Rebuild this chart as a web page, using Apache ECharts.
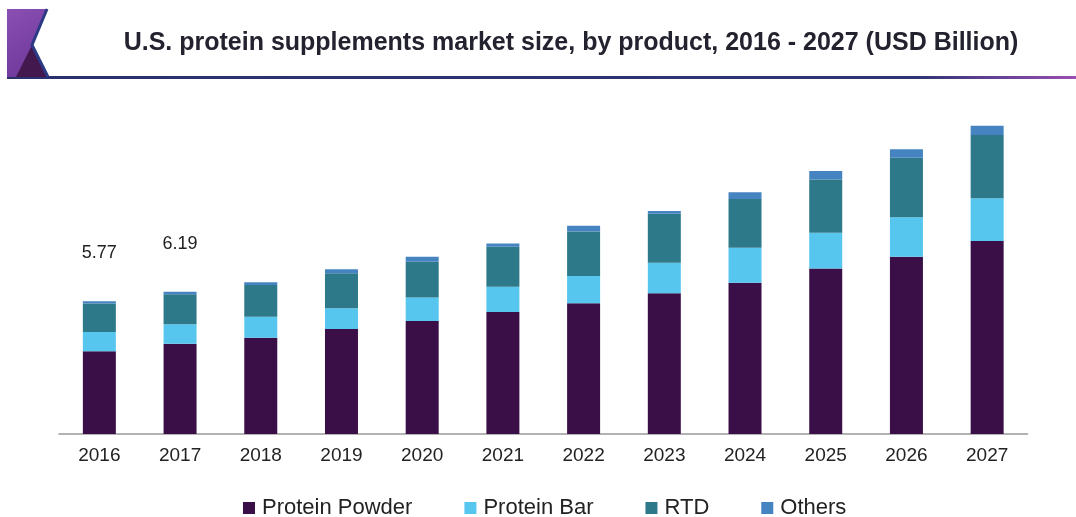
<!DOCTYPE html>
<html>
<head>
<meta charset="utf-8">
<title>U.S. protein supplements market size</title>
<script src="https://cdn.jsdelivr.net/npm/echarts@6/dist/echarts.min.js"></script>
<style>
  html, body { margin: 0; padding: 0; background: #ffffff; }
  #chart { width: 1076px; height: 517px; }
</style>
</head>
<body>
<div id="chart"></div>
<script>
// Market size by product, USD billion
const years = ['2016', '2017', '2018', '2019', '2020', '2021', '2022', '2023', '2024', '2025', '2026', '2027'];
const proteinPowder = [3.60, 3.92, 4.19, 4.57, 4.91, 5.30, 5.68, 6.12, 6.58, 7.20, 7.71, 8.39];
const proteinBar    = [0.84, 0.85, 0.91, 0.90, 1.03, 1.10, 1.19, 1.33, 1.52, 1.55, 1.71, 1.86];
const rtd           = [1.23, 1.31, 1.38, 1.52, 1.55, 1.74, 1.93, 2.13, 2.12, 2.32, 2.59, 2.75];
const others        = [0.10, 0.11, 0.12, 0.17, 0.22, 0.14, 0.25, 0.12, 0.29, 0.37, 0.37, 0.40];
// Years whose total is printed above the stack
const labelledYears = ['2016', '2017'];

const totals = years.map((_, i) => proteinPowder[i] + proteinBar[i] + rtd[i] + others[i]);

const FONT = '"Liberation Sans", Arial, sans-serif';
const COLORS = ['#3a0f48', '#56c6ef', '#2d7989', '#4584c0'];

const othersData = others.map((v, i) => {
  if (labelledYears.indexOf(years[i]) === -1) return v;
  return {
    value: v,
    label: {
      show: true,
      position: 'top',
      distance: 39,
      formatter: () => totals[i].toFixed(2),
      fontFamily: FONT,
      fontSize: 18,
      color: '#222222'
    }
  };
});

const chart = echarts.init(document.getElementById('chart'), null, { renderer: 'canvas' });

const barBase = { type: 'bar', stack: 'total', barWidth: 33 };

chart.setOption({
  animation: false,
  backgroundColor: '#ffffff',
  color: COLORS,
  title: {
    text: 'U.S. protein supplements market size, by product, 2016 - 2027 (USD Billion)',
    left: 566,
    textAlign: 'center',
    top: 26,
    textStyle: {
      fontFamily: FONT,
      fontWeight: 'bold',
      fontSize: 25,
      color: '#23222f'
    }
  },
  legend: {
    left: 243,
    top: 497,
    padding: 0,
    icon: 'rect',
    itemWidth: 12,
    itemHeight: 12,
    itemGap: 52,
    textStyle: {
      fontFamily: FONT,
      fontSize: 22,
      color: '#222222',
      padding: [0, 0, 0, 2]
    },
    data: ['Protein Powder', 'Protein Bar', 'RTD', 'Others']
  },
  grid: { left: 59, right: 48.5, top: 112, bottom: 83, containLabel: false },
  xAxis: {
    type: 'category',
    data: years,
    axisLine: { show: true, lineStyle: { color: '#9a9a9a', width: 1.5 } },
    axisTick: { show: false },
    axisLabel: {
      margin: 12,
      fontFamily: FONT,
      fontSize: 19,
      color: '#222222'
    }
  },
  yAxis: {
    type: 'value',
    min: 0,
    max: 14,
    show: false,
    splitLine: { show: false }
  },
  series: [
    Object.assign({ name: 'Protein Powder', data: proteinPowder }, barBase),
    Object.assign({ name: 'Protein Bar', data: proteinBar }, barBase),
    Object.assign({ name: 'RTD', data: rtd }, barBase),
    Object.assign({ name: 'Others', data: othersData }, barBase)
  ],
  graphic: [
    // Header rule under the title
    {
      type: 'rect',
      shape: { x: 7, y: 76, width: 1069, height: 3 },
      style: {
        fill: new echarts.graphic.LinearGradient(0, 0, 1, 0, [
          { offset: 0, color: '#2a2f6e' },
          { offset: 0.85, color: '#2e3474' },
          { offset: 1, color: '#9a4fb0' }
        ])
      },
      z: 10
    },
    // Logo block: upper purple chevron
    {
      type: 'polygon',
      shape: { points: [[7, 9], [47, 9], [32, 45], [48, 77], [7, 77]] },
      style: {
        fill: new echarts.graphic.LinearGradient(0, 0, 1, 1, [
          { offset: 0, color: '#8b4fb3' },
          { offset: 1, color: '#6a3596' }
        ])
      },
      z: 10
    },
    // Logo block: dark lower triangle
    {
      type: 'polygon',
      shape: { points: [[32, 45], [16, 77], [47, 77]] },
      style: { fill: '#43184f' },
      z: 11
    },
    // Logo block: navy edge of the chevron
    {
      type: 'polyline',
      shape: { points: [[47, 9], [32, 45], [48, 77]] },
      style: { stroke: '#2c3a86', lineWidth: 3, fill: null },
      z: 12
    }
  ]
});
</script>
</body>
</html>
